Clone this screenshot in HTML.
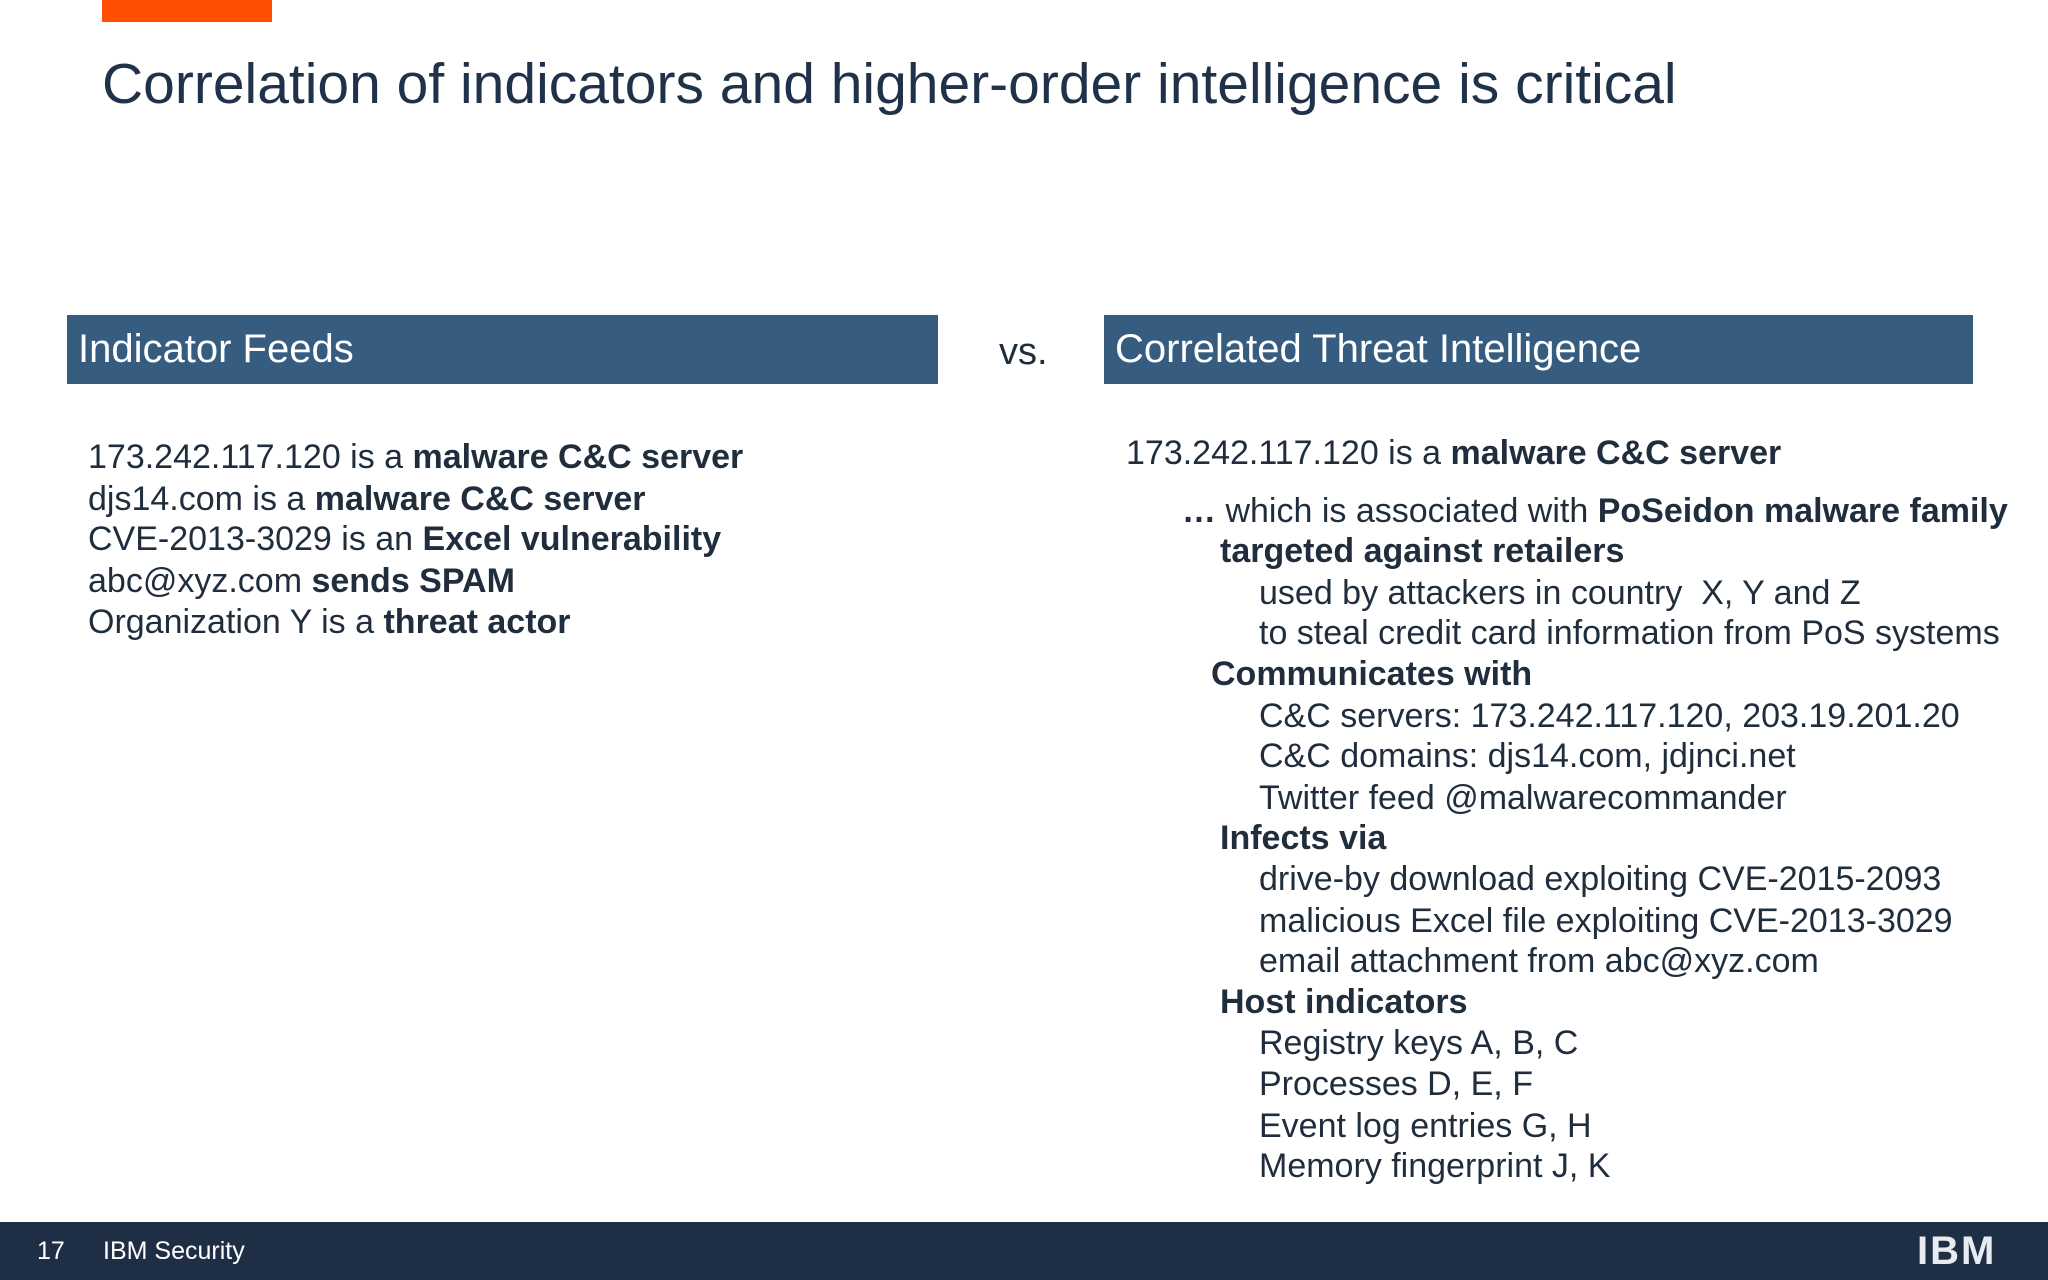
<!DOCTYPE html>
<html><head><meta charset="utf-8"><style>
body{margin:0;width:2048px;height:1280px;position:relative;overflow:hidden;background:#fff;font-family:"Liberation Sans",sans-serif;color:#1f2d3d}
.a{position:absolute;white-space:nowrap}
.l{position:absolute;white-space:nowrap;font-size:34px;line-height:40px}
b{font-weight:bold}
.hd{position:absolute;background:#365c80;color:#fff;font-size:40px;line-height:69px;height:69px;top:315px}
</style></head><body>
<div class="a" style="left:102px;top:0;width:170px;height:22px;background:#fe5000"></div>
<div class="a" style="left:102px;top:52px;font-size:57px;line-height:64px;color:#1f3249">Correlation of indicators and higher-order intelligence is critical</div>
<div class="hd" style="left:67px;width:871px;padding-left:11px;box-sizing:border-box">Indicator Feeds</div>
<div class="a" style="left:999px;top:332px;font-size:38px;line-height:40px">vs.</div>
<div class="hd" style="left:1104px;width:869px;padding-left:11px;box-sizing:border-box">Correlated Threat Intelligence</div>

<div>
<div class="l" style="left:88px;top:437px">173.242.117.120 is a <b>malware C&amp;C server</b></div>
<div class="l" style="left:88px;top:479px">djs14.com is a <b>malware C&amp;C server</b></div>
<div class="l" style="left:88px;top:519px">CVE-2013-3029 is an <b>Excel vulnerability</b></div>
<div class="l" style="left:88px;top:561px">abc@xyz.com <b>sends SPAM</b></div>
<div class="l" style="left:88px;top:602px">Organization Y is a <b>threat actor</b></div>
</div>

<div>
<div class="l" style="left:1126px;top:433px">173.242.117.120 is a <b>malware C&amp;C server</b></div>
<div class="l" style="left:1182px;top:491px"><b>…</b> which is associated with <b>PoSeidon malware family</b></div>
<div class="l" style="left:1220px;top:531px"><b>targeted against retailers</b></div>
<div class="l" style="left:1259px;top:573px">used by attackers in country &nbsp;X, Y and Z</div>
<div class="l" style="left:1259px;top:613px">to steal credit card information from PoS systems</div>
<div class="l" style="left:1211px;top:654px"><b>Communicates with</b></div>
<div class="l" style="left:1259px;top:696px">C&amp;C servers: 173.242.117.120, 203.19.201.20</div>
<div class="l" style="left:1259px;top:736px">C&amp;C domains: djs14.com, jdjnci.net</div>
<div class="l" style="left:1259px;top:778px">Twitter feed @malwarecommander</div>
<div class="l" style="left:1220px;top:818px"><b>Infects via</b></div>
<div class="l" style="left:1259px;top:859px">drive-by download exploiting CVE-2015-2093</div>
<div class="l" style="left:1259px;top:901px">malicious Excel file exploiting CVE-2013-3029</div>
<div class="l" style="left:1259px;top:941px">email attachment from abc@xyz.com</div>
<div class="l" style="left:1220px;top:982px"><b>Host indicators</b></div>
<div class="l" style="left:1259px;top:1023px">Registry keys A, B, C</div>
<div class="l" style="left:1259px;top:1064px">Processes D, E, F</div>
<div class="l" style="left:1259px;top:1106px">Event log entries G, H</div>
<div class="l" style="left:1259px;top:1146px">Memory fingerprint J, K</div>
</div>

<div class="a" style="left:0;top:1222px;width:2048px;height:58px;background:#1e2f45;color:#fff;font-size:25px;line-height:58px">
<span class="a" style="left:37px">17</span>
<span class="a" style="left:103px">IBM Security</span>
<span class="a" style="left:1917px;font-weight:bold;font-size:40px;letter-spacing:2px;color:#e8ecf0">IBM</span>
</div>
</body></html>
